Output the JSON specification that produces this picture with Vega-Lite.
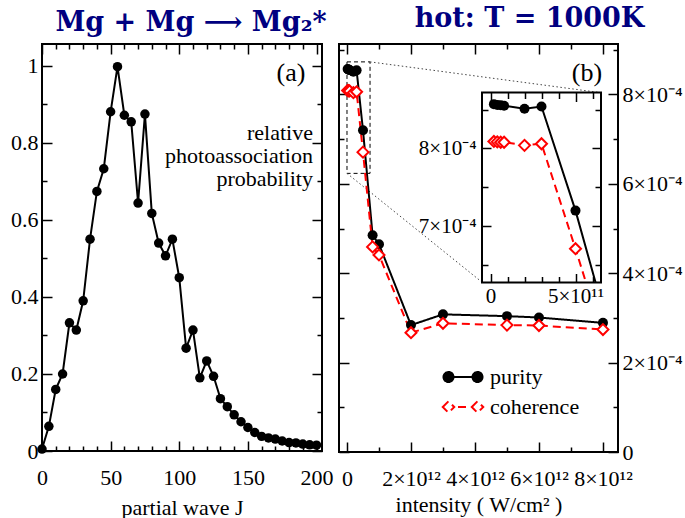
{
  "$schema": "https://vega.github.io/schema/vega-lite/v6.json",
  "background": "white",
  "padding": {"left": 9, "top": 3, "right": 0, "bottom": 0},
  "datasets": {
    "pa": [
      {"J": 0, "p": 0.005}, {"J": 5, "p": 0.064}, {"J": 10, "p": 0.16}, {"J": 15, "p": 0.2},
      {"J": 20, "p": 0.333}, {"J": 25, "p": 0.314}, {"J": 30, "p": 0.39}, {"J": 35, "p": 0.55},
      {"J": 40, "p": 0.674}, {"J": 45, "p": 0.733}, {"J": 50, "p": 0.881}, {"J": 55, "p": 0.998},
      {"J": 60, "p": 0.872}, {"J": 65, "p": 0.855}, {"J": 70, "p": 0.644}, {"J": 75, "p": 0.875},
      {"J": 80, "p": 0.617}, {"J": 85, "p": 0.54}, {"J": 90, "p": 0.507}, {"J": 95, "p": 0.55},
      {"J": 100, "p": 0.45}, {"J": 105, "p": 0.267}, {"J": 110, "p": 0.314}, {"J": 115, "p": 0.19},
      {"J": 120, "p": 0.234}, {"J": 125, "p": 0.194}, {"J": 130, "p": 0.136}, {"J": 135, "p": 0.115},
      {"J": 140, "p": 0.094}, {"J": 145, "p": 0.076}, {"J": 150, "p": 0.061}, {"J": 155, "p": 0.048},
      {"J": 160, "p": 0.038}, {"J": 165, "p": 0.034}, {"J": 170, "p": 0.031}, {"J": 175, "p": 0.026},
      {"J": 180, "p": 0.022}, {"J": 185, "p": 0.021}, {"J": 190, "p": 0.018}, {"J": 195, "p": 0.016},
      {"J": 200, "p": 0.015}
    ],
    "inten": [
      {"I": 2e10, "v": 8.57e-4, "s": "purity"}, {"I": 4e10, "v": 8.56e-4, "s": "purity"},
      {"I": 6e10, "v": 8.555e-4, "s": "purity"}, {"I": 8e10, "v": 8.55e-4, "s": "purity"},
      {"I": 2e11, "v": 8.51e-4, "s": "purity"}, {"I": 3e11, "v": 8.54e-4, "s": "purity"},
      {"I": 5e11, "v": 7.2e-4, "s": "purity"}, {"I": 8e11, "v": 4.85e-4, "s": "purity"},
      {"I": 1e12, "v": 4.65e-4, "s": "purity"}, {"I": 2e12, "v": 2.84e-4, "s": "purity"},
      {"I": 3e12, "v": 3.08e-4, "s": "purity"}, {"I": 5e12, "v": 3.04e-4, "s": "purity"},
      {"I": 6e12, "v": 3.01e-4, "s": "purity"}, {"I": 8e12, "v": 2.89e-4, "s": "purity"},
      {"I": 2e10, "v": 8.09e-4, "s": "coherence"}, {"I": 4e10, "v": 8.085e-4, "s": "coherence"},
      {"I": 6e10, "v": 8.08e-4, "s": "coherence"}, {"I": 8e10, "v": 8.08e-4, "s": "coherence"},
      {"I": 2e11, "v": 8.04e-4, "s": "coherence"}, {"I": 3e11, "v": 8.06e-4, "s": "coherence"},
      {"I": 5e11, "v": 6.71e-4, "s": "coherence"}, {"I": 8e11, "v": 4.59e-4, "s": "coherence"},
      {"I": 1e12, "v": 4.41e-4, "s": "coherence"}, {"I": 2e12, "v": 2.67e-4, "s": "coherence"},
      {"I": 3e12, "v": 2.88e-4, "s": "coherence"}, {"I": 5e12, "v": 2.84e-4, "s": "coherence"},
      {"I": 6e12, "v": 2.83e-4, "s": "coherence"}, {"I": 8e12, "v": 2.74e-4, "s": "coherence"}
    ]
  },
  "bounds": "flush",
  "spacing": 17,
  "resolve": {"scale": {"color": "independent", "strokeDash": "independent"}, "legend": {"color": "independent", "strokeDash": "independent"}},
  "hconcat": [
    {
      "width": 280, "height": 407,
      "title": {"text": "Mg + Mg ⟶ Mg₂*", "dx": 9},
      "data": {"name": "pa"},
      "layer": [
        {
          "mark": {"type": "line", "color": "black", "strokeWidth": 2},
          "encoding": {
            "x": {"field": "J", "type": "quantitative", "scale": {"domain": [0, 204], "nice": false, "zero": false},
              "axis": {"orient": "bottom", "values": [0,10,20,30,40,50,60,70,80,90,100,110,120,130,140,150,160,170,180,190,200],
                "labelExpr": "datum.value % 50 === 0 ? '' + datum.value : ''",
                "tickSize": {"condition": {"test": "datum.value % 50 === 0", "value": -10}, "value": -5},
                "labelPadding": 26, "titlePadding": 4,
                "title": "partial wave J"}},
            "y": {"field": "p", "type": "quantitative", "scale": {"domain": [0, 1.057], "nice": false, "zero": false},
              "axis": {"orient": "left", "values": [0,0.1,0.2,0.3,0.4,0.5,0.6,0.7,0.8,0.9,1],
                "labelExpr": "indexof([0,0.2,0.4,0.6,0.8,1], datum.value) >= 0 ? '' + datum.value : ''",
                "tickSize": {"condition": {"test": "indexof([0,0.2,0.4,0.6,0.8,1], datum.value) >= 0", "value": -10}, "value": -5},
                "title": null}}
          }
        },
        {
          "mark": {"type": "point", "filled": true, "color": "black", "size": 90, "opacity": 1},
          "encoding": {
            "x": {"field": "J", "type": "quantitative",
              "axis": {"orient": "top", "values": [0,10,20,30,40,50,60,70,80,90,100,110,120,130,140,150,160,170,180,190,200],
                "labels": false,
                "tickSize": {"condition": {"test": "datum.value % 50 === 0", "value": -10}, "value": -5},
                "title": null}},
            "y": {"field": "p", "type": "quantitative",
              "axis": {"orient": "right", "values": [0,0.1,0.2,0.3,0.4,0.5,0.6,0.7,0.8,0.9,1],
                "labels": false,
                "tickSize": {"condition": {"test": "indexof([0,0.2,0.4,0.6,0.8,1], datum.value) >= 0", "value": -10}, "value": -5},
                "title": null}}
          }
        },
        {
          "data": {"values": [{}]},
          "mark": {"type": "text", "text": "(a)", "fontSize": 26, "align": "center", "baseline": "middle"},
          "encoding": {
            "x": {"datum": 181.4, "type": "quantitative", "axis": null},
            "y": {"datum": 0.982, "type": "quantitative", "axis": null}
          }
        },
        {
          "data": {"values": [{}]},
          "mark": {"type": "text", "text": ["relative", "photoassociation", "probability"], "fontSize": 22, "align": "right", "baseline": "middle", "lineHeight": 23},
          "encoding": {
            "x": {"datum": 197.4, "type": "quantitative", "axis": null},
            "y": {"datum": 0.826, "type": "quantitative", "axis": null}
          }
        }
      ],
      "resolve": {"axis": {"x": "independent", "y": "independent"}}
    },
    {
      "width": 279, "height": 408,
      "title": {"text": "hot: T = 1000K", "dx": 51},
      "layer": [
        {
          "data": {"name": "inten"},
          "layer": [
            {
              "data": {"values": [{}]},
              "mark": {"type": "rect", "filled": false, "color": "black", "strokeDash": [4, 3], "strokeWidth": 1},
              "encoding": {
                "x": {"datum": 0, "type": "quantitative", "axis": null},
                "x2": {"datum": 7.2e11},
                "y": {"datum": 8.73e-4, "type": "quantitative", "axis": null},
                "y2": {"datum": 6.235e-4}
              }
            },
            {
              "data": {"values": [{}]},
              "mark": {"type": "rule", "color": "#444444", "strokeDash": [1.5, 2.5], "strokeWidth": 1},
              "encoding": {
                "x": {"datum": 7.2e11, "type": "quantitative", "axis": null},
                "x2": {"datum": 7.94e12},
                "y": {"datum": 8.73e-4, "type": "quantitative", "axis": null},
                "y2": {"datum": 8.04e-4}
              }
            },
            {
              "data": {"values": [{}]},
              "mark": {"type": "rule", "color": "#444444", "strokeDash": [1.5, 2.5], "strokeWidth": 1},
              "encoding": {
                "x": {"datum": 0, "type": "quantitative", "axis": null},
                "x2": {"datum": 4.22e12},
                "y": {"datum": 6.235e-4, "type": "quantitative", "axis": null},
                "y2": {"datum": 3.8e-4}
              }
            },
            {
              "mark": {"type": "line", "strokeWidth": 2},
              "encoding": {
                "x": {"field": "I", "type": "quantitative", "scale": {"domain": [-2.5e11, 8.47e12], "nice": false, "zero": false},
                  "axis": {"orient": "bottom", "values": [0,1e12,2e12,3e12,4e12,5e12,6e12,7e12,8e12],
                    "labelExpr": "round(datum.value/1e12) % 2 === 0 ? (datum.value === 0 ? '0' : round(datum.value/1e12) + '×10¹²') : ''",
                    "tickSize": {"condition": {"test": "round(datum.value/1e12) % 2 === 0", "value": -10}, "value": -5},
                    "labelPadding": 26, "titlePadding": 0,
                    "encode": {"labels": {"update": {"dy": {"value": 12}}}},
                    "title": "intensity ( W/cm² )"}},
                "y": {"field": "v", "type": "quantitative", "scale": {"domain": [0, 9.13e-4], "nice": false, "zero": false},
                  "axis": {"orient": "right", "values": [0,1e-4,2e-4,3e-4,4e-4,5e-4,6e-4,7e-4,8e-4,9e-4],
                    "labelExpr": "round(datum.value*1e4) % 2 === 0 ? (datum.value === 0 ? '0' : round(datum.value*1e4) + '×10⁻⁴') : ''",
                    "tickSize": {"condition": {"test": "round(datum.value*1e4) % 2 === 0", "value": -10}, "value": -5},
                    "title": null}},
                "color": {"field": "s", "type": "nominal", "sort": ["purity", "coherence"],
                  "scale": {"domain": ["purity", "coherence"], "range": ["black", "red"]},
                  "legend": {"orient": "none", "legendX": 113, "legendY": 322, "title": null, "padding": 0,
                    "labelFontSize": 22, "labelFont": "Liberation Serif", "labelColor": "black",
                    "symbolSize": 100, "symbolStrokeWidth": 2, "labelOffset": 16, "rowPadding": 8,
                    "encode": {"symbols": {"update": {
                      "shape": [{"test": "datum.value === 'purity'", "value": "M-3.9,0A1,1,0,1,0,-1.9,0A1,1,0,1,0,-3.9,0ZM1.9,0A1,1,0,1,0,3.9,0A1,1,0,1,0,1.9,0ZM-1.9,0L1.9,0"}, {"value": "M-4.05,0L-2.9,-1.15L-1.75,0L-2.9,1.15ZM1.75,0L2.9,-1.15L4.05,0L2.9,1.15ZM-1,0L1,0"}],
                      "fill": [{"test": "datum.value === 'purity'", "value": "black"}, {"value": "white"}],
                      "stroke": [{"test": "datum.value === 'purity'", "value": "black"}, {"value": "red"}],
                      "strokeDash": {"value": [1, 0]},
                      "opacity": {"value": 1}
                    }}}}},
                "strokeDash": {"field": "s", "type": "nominal",
                  "scale": {"domain": ["purity", "coherence"], "range": [[1, 0], [8, 5]]}, "legend": null}
              }
            },
            {
              "transform": [{"filter": "datum.s === 'purity'"}],
              "mark": {"type": "point", "filled": true, "color": "black", "size": 100, "opacity": 1},
              "encoding": {
                "x": {"field": "I", "type": "quantitative",
                  "axis": {"orient": "top", "values": [0,1e12,2e12,3e12,4e12,5e12,6e12,7e12,8e12], "labels": false,
                    "tickSize": {"condition": {"test": "round(datum.value/1e12) % 2 === 0", "value": -10}, "value": -5},
                    "title": null}},
                "y": {"field": "v", "type": "quantitative",
                  "axis": {"orient": "left", "values": [0,1e-4,2e-4,3e-4,4e-4,5e-4,6e-4,7e-4,8e-4,9e-4], "labels": false,
                    "tickSize": {"condition": {"test": "round(datum.value*1e4) % 2 === 0", "value": -10}, "value": -5},
                    "title": null}}
              }
            },
            {
              "transform": [{"filter": "datum.s === 'coherence'"}],
              "mark": {"type": "point", "shape": "diamond", "filled": false, "fill": "white", "fillOpacity": 1, "stroke": "red", "strokeWidth": 2, "size": 121, "opacity": 1},
              "encoding": {
                "x": {"field": "I", "type": "quantitative", "axis": null},
                "y": {"field": "v", "type": "quantitative", "axis": null}
              }
            },
            {
              "data": {"values": [{}]},
              "mark": {"type": "text", "text": "(b)", "fontSize": 26, "align": "center", "baseline": "middle"},
              "encoding": {
                "x": {"datum": 7.5e12, "type": "quantitative", "axis": null},
                "y": {"datum": 8.48e-4, "type": "quantitative", "axis": null}
              }
            }
          ],
          "resolve": {"axis": {"x": "independent", "y": "independent"}}
        },
        {
          "data": {"name": "inten"},
          "layer": [
            {
              "data": {"values": [{}]},
              "mark": {"type": "rect", "fill": "white", "stroke": "black", "strokeWidth": 2},
              "encoding": {
                "x": {"datum": -5e10, "type": "quantitative",
                  "scale": {"domain": [-5e10, 6.5e11], "range": [143, 262], "nice": false, "zero": false},
                  "axis": {"orient": "bottom", "offset": -169.5, "zindex": 1, "values": [0,1e11,2e11,3e11,4e11,5e11,6e11],
                    "labelExpr": "round(datum.value/1e11) % 5 === 0 ? (datum.value === 0 ? '0' : round(datum.value/1e11) + '×10¹¹') : ''",
                    "tickSize": {"condition": {"test": "round(datum.value/1e11) % 5 === 0", "value": -9}, "value": -6},
                    "labelPadding": 12, "labelFontSize": 21, "title": null}},
                "x2": {"datum": 6.5e11},
                "y": {"datum": 6.275e-4, "type": "quantitative",
                  "scale": {"domain": [6.275e-4, 8.72e-4], "range": [238.5, 48.5], "nice": false, "zero": false},
                  "axis": {"orient": "left", "offset": -143, "zindex": 1, "values": [6.5e-4, 7e-4, 7.5e-4, 8e-4, 8.5e-4],
                    "labelExpr": "round(datum.value*1e5) % 10 === 0 ? round(datum.value*1e4) + '×10⁻⁴' : ''",
                    "tickSize": {"condition": {"test": "round(datum.value*1e5) % 10 === 0", "value": -9}, "value": -6},
                    "labelPadding": 15, "labelFontSize": 21, "title": null}},
                "y2": {"datum": 8.72e-4}
              }
            },
            {
              "transform": [{"filter": "datum.s === 'purity'"}],
              "mark": {"type": "line", "color": "black", "strokeWidth": 2, "clip": {"path": "M143,48.5H262V238.5H143Z"}},
              "encoding": {
                "x": {"field": "I", "type": "quantitative",
                  "axis": {"orient": "top", "offset": -48.5, "zindex": 1, "values": [0,1e11,2e11,3e11,4e11,5e11,6e11], "labels": false,
                    "tickSize": {"condition": {"test": "round(datum.value/1e11) % 5 === 0", "value": -9}, "value": -6},
                    "title": null}},
                "y": {"field": "v", "type": "quantitative",
                  "axis": {"orient": "right", "offset": -17, "zindex": 1, "values": [6.5e-4, 7e-4, 7.5e-4, 8e-4, 8.5e-4], "labels": false,
                    "tickSize": {"condition": {"test": "round(datum.value*1e5) % 10 === 0", "value": -9}, "value": -6},
                    "title": null}}
              }
            },
            {
              "transform": [{"filter": "datum.s === 'coherence'"}],
              "mark": {"type": "line", "color": "red", "strokeWidth": 2, "strokeDash": [8, 5], "clip": {"path": "M143,48.5H262V238.5H143Z"}},
              "encoding": {
                "x": {"field": "I", "type": "quantitative", "axis": null},
                "y": {"field": "v", "type": "quantitative", "axis": null}
              }
            },
            {
              "transform": [{"filter": "datum.s === 'purity' && datum.I <= 6e11"}],
              "mark": {"type": "point", "filled": true, "color": "black", "size": 100, "opacity": 1},
              "encoding": {
                "x": {"field": "I", "type": "quantitative", "axis": null},
                "y": {"field": "v", "type": "quantitative", "axis": null}
              }
            },
            {
              "transform": [{"filter": "datum.s === 'coherence' && datum.I <= 6e11"}],
              "mark": {"type": "point", "shape": "diamond", "filled": false, "fill": "white", "fillOpacity": 1, "stroke": "red", "strokeWidth": 2, "size": 121, "opacity": 1},
              "encoding": {
                "x": {"field": "I", "type": "quantitative", "axis": null},
                "y": {"field": "v", "type": "quantitative", "axis": null}
              }
            }
          ],
          "resolve": {"axis": {"x": "independent", "y": "independent"}}
        }
      ],
      "resolve": {"scale": {"x": "independent", "y": "independent"}, "axis": {"x": "independent", "y": "independent"}}
    }
  ],
  "config": {
    "view": {"stroke": "black", "strokeWidth": 2},
    "font": "Liberation Serif",
    "axis": {"domain": false, "grid": false, "labelFont": "Liberation Serif", "labelFontSize": 22, "labelColor": "black",
      "tickColor": "black", "tickWidth": 1.5, "titleFont": "Liberation Serif", "titleFontSize": 22, "titleFontWeight": "normal",
      "titleColor": "black", "labelPadding": 14, "labelFlush": false, "labelOverlap": false, "labelBound": false},
    "title": {"font": "DejaVu Serif", "fontSize": 27, "fontWeight": "bold", "color": "#000080", "offset": 6},
    "text": {"font": "Liberation Serif", "color": "black"}
  }
}
